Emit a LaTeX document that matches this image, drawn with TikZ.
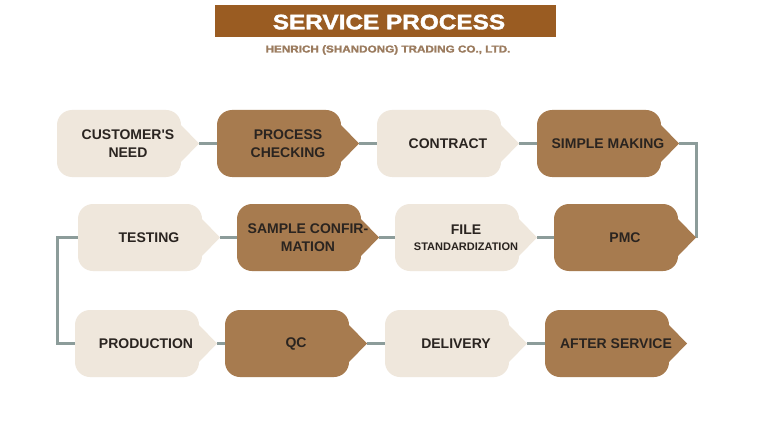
\documentclass[tikz,border=0pt]{standalone}
\usepackage{fontspec}
\setmainfont{Liberation Sans}
\newfontfamily\heavyfont[FakeBold=1.6]{Liberation Sans Bold}
\usetikzlibrary{calc}
\definecolor{banner}{HTML}{9A5C22}
\definecolor{subc}{HTML}{9B7B5E}
\definecolor{boxbrown}{HTML}{A77B4F}
\definecolor{boxlight}{HTML}{EFE7DC}
\definecolor{conn}{HTML}{8C9C9A}
\definecolor{txt}{HTML}{2A2420}
\pgfdeclarelayer{back}
\pgfdeclarelayer{bg}
\pgfsetlayers{back,bg,main}
\newcommand\procbg[2]{%
  \begin{scope}[shift={(#1.center)}]
    \fill[#2] (-71,0) -- (-71,-18.5) .. controls (-71,-26.8) and (-64.3,-33.5) .. (-56,-33.5)
      -- (38,-33.5) .. controls (46.3,-33.5) and (53,-26.8) .. (53,-18.5)
      -- (71,0)
      -- (53,18.5) .. controls (53,26.8) and (46.3,33.5) .. (38,33.5)
      -- (-56,33.5) .. controls (-64.3,33.5) and (-71,26.8) .. (-71,18.5) -- cycle;
  \end{scope}}
\tikzset{
  procbox/.style={minimum width=142pt, minimum height=67pt, inner sep=0pt,
    align=center, text=txt, font=\fontsize{14}{17.5}\selectfont\bfseries},
  link/.style={draw=conn, line width=3pt}
}
\begin{document}
\begin{tikzpicture}[x=1pt,y=-1pt]
\begin{pgfonlayer}{back}
\fill[white] (0,0) rectangle (759,422);
\end{pgfonlayer}
\useasboundingbox (0,0) rectangle (759,422);
% header
\node[fill=banner, minimum width=341pt, minimum height=32pt, inner sep=0pt] (banner) at (385.5,21) {};
\node[anchor=base, inner sep=0pt, text=white, font=\fontsize{21}{24}\selectfont\heavyfont] (title) at (389,29.3) {\scalebox{1.16}[1]{SERVICE PROCESS}};
\node[anchor=base, inner sep=0pt, text=subc, font=\fontsize{10}{12}\selectfont\heavyfont] (sub) at (388,52.5) {\scalebox{1.17}[1]{HENRICH (SHANDONG) TRADING CO., LTD.}};
% row 1
\node[procbox] (n1) at (128,143.5) {CUSTOMER\textquotesingle S\\NEED};
\node[procbox] (n2) at (288,143.5) {PROCESS\\CHECKING};
\node[procbox] (n3) at (448,143.5) {CONTRACT};
\node[procbox] (n4) at (608,143.5) {SIMPLE MAKING};
% row 2
\node[procbox] (n5) at (625,237.5) {PMC};
\node[procbox] (n6) at (466,237.5) {FILE\\[-1.5pt]{\fontsize{11}{13}\selectfont STANDARDIZATION}};
\node[procbox] (n7) at (308,237.5) {SAMPLE CONFIR-\\MATION};
\node[procbox] (n8) at (149,237.5) {TESTING};
% row 3
\node[procbox] (n9) at (146,343.5) {PRODUCTION};
\node[procbox] (n10) at (296,343.5) {QC};
\node[procbox] (n11) at (456,343.5) {DELIVERY};
\node[procbox] (n12) at (616,343.5) {AFTER SERVICE};
\begin{pgfonlayer}{bg}
  \draw[link] (n1.east) -- (n2.west);
  \draw[link] (n2.east) -- (n3.west);
  \draw[link] (n3.east) -- (n4.west);
  \draw[link] (n4.east) -| (n5.east);
  \draw[link] (n5.west) -- (n6.east);
  \draw[link] (n6.west) -- (n7.east);
  \draw[link] (n7.west) -- (n8.east);
  \draw[link] (n8.west) -- ++(-20,0) |- (n9.west);
  \draw[link] (n9.east) -- (n10.west);
  \draw[link] (n10.east) -- (n11.west);
  \draw[link] (n11.east) -- (n12.west);
  \procbg{n1}{boxlight}
  \procbg{n2}{boxbrown}
  \procbg{n3}{boxlight}
  \procbg{n4}{boxbrown}
  \procbg{n5}{boxbrown}
  \procbg{n6}{boxlight}
  \procbg{n7}{boxbrown}
  \procbg{n8}{boxlight}
  \procbg{n9}{boxlight}
  \procbg{n10}{boxbrown}
  \procbg{n11}{boxlight}
  \procbg{n12}{boxbrown}
\end{pgfonlayer}
\end{tikzpicture}
\end{document}
